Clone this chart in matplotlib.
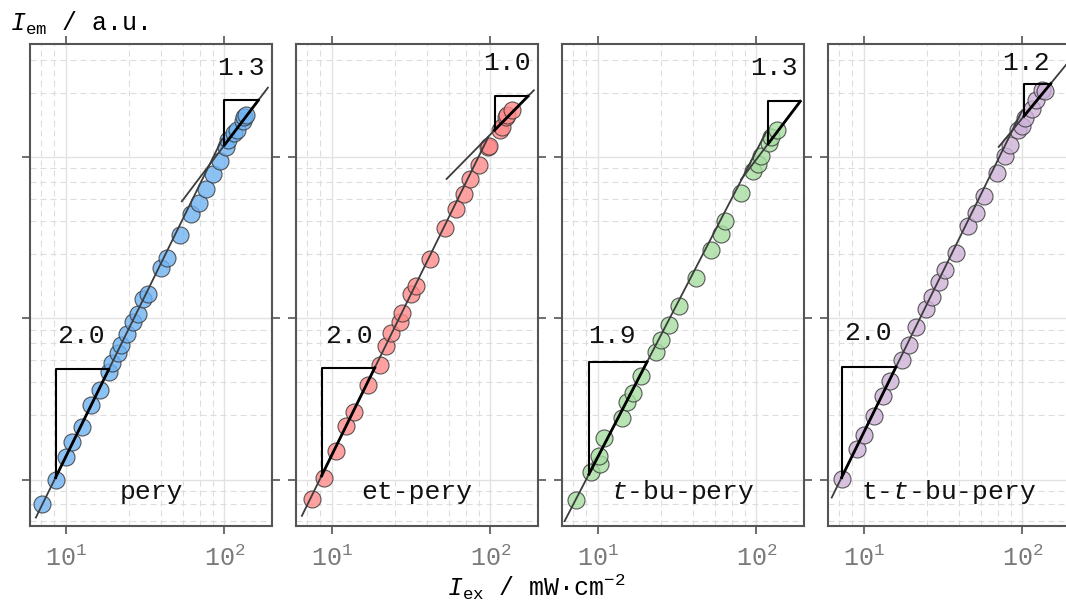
import numpy as np
import matplotlib.pyplot as plt
from matplotlib.ticker import LogLocator, NullFormatter

plt.rcParams['font.family'] = ['Liberation Mono', 'DejaVu Sans Mono']
plt.rcParams['mathtext.fontset'] = 'custom'
plt.rcParams['mathtext.rm'] = 'Liberation Mono'
plt.rcParams['mathtext.it'] = 'Liberation Mono:italic'

# excitation intensity (mW/cm2) and emission intensity (a.u.) per compound
pery_x = [7.13, 8.74, 10.1, 11.0, 12.7, 14.4, 16.4, 18.7, 19.6, 21.3, 22.2, 24.4, 26.5,
          28.5, 30.9, 33.0, 40.0, 43.6, 52.6, 61.7, 69.6, 76.7, 85.3, 94.0, 102.4, 105.0,
          115.6, 120.2, 130.4, 133.6, 136.9]
pery_y = [703, 991, 1370, 1698, 2124, 2910, 3589, 4665, 5253, 6090, 6860, 7995, 9530,
          10640, 13190, 14030, 20540, 23600, 32620, 44460, 52040, 63560, 78040, 93980,
          115400, 126900, 141600, 147800, 166500, 175500, 181500]

et_x = [7.56, 8.95, 10.6, 12.4, 13.8, 16.9, 20.1, 21.9, 23.7, 26.8, 27.8, 31.7, 34.2,
        41.5, 52.1, 60.8, 68.0, 74.9, 85.2, 96.2, 97.6, 114.5, 118.4, 125.5, 127.3, 136.9]
et_y = [755, 1029, 1507, 2135, 2633, 3873, 5156, 6698, 8070, 9443, 10740, 14030, 15730,
        23360, 36400, 47300, 59200, 72650, 89600, 115400, 116500, 146500, 152200, 175500,
        181500, 195000]

tbu_x = [7.31, 9.03, 10.3, 10.2, 11.0, 14.2, 15.4, 16.8, 18.7, 23.2, 25.0, 28.2, 32.5,
         41.9, 52.1, 60.0, 63.8, 79.7, 95.3, 102.4, 106.4, 120.2, 123.0, 135.6]
tbu_y = [744, 1121, 1245, 1390, 1806, 2404, 3008, 3436, 4403, 6150, 7337, 9135, 11820,
         17720, 26300, 33420, 39850, 60000, 81470, 90920, 100900, 122800, 133100, 146500]

ttbu_x = [7.27, 9.03, 10.1, 11.6, 13.3, 14.7, 17.4, 19.4, 21.5, 24.7, 26.9, 29.9, 32.5,
          38.1, 45.7, 50.9, 57.4, 69.0, 77.4, 83.6, 94.4, 100.0, 103.9, 114.5, 121.3,
          133.6, 138.2]
ttbu_y = [1005, 1543, 1894, 2486, 3310, 4101, 5537, 6829, 8795, 11430, 13500, 16740,
          19770, 25460, 37460, 45100, 57270, 79970, 101500, 118200, 146500, 155000,
          173000, 196700, 224900, 259500, 257000]

names = ['pery', 'et-pery', '$t$-bu-pery', 't-$t$-bu-pery']
colors = ['#6fb2f2', '#ff8a8a', '#a6dca0', '#cdb2d8']

# power-law fits: low-intensity (slope, anchor x, anchor y, x range)
low_slope = [2.0, 2.0, 1.9, 2.0]
low_label = ['2.0', '2.0', '1.9', '2.0']
low_x0 = [8.65, 8.65, 8.82, 7.27]
low_y0 = [1029, 1054, 1079, 1029]
low_x1 = [18.7, 18.7, 20.5, 16.0]
low_range = [(6.5, 97), (6.5, 97), (6.2, 115), (6.3, 100)]
low_text = [(12.5, 7800), (12.8, 7800), (12.4, 7800), (10.6, 8070)]

# high-intensity tangents
high_slope = [1.3, 1.0, 1.3, 1.2]
high_label = ['1.3', '1.0', '1.3', '1.2']
high_x0 = [100.0, 106.4, 119.0, 102.4]
high_y0 = [118200, 146500, 121000, 178900]
high_x1 = [163.7, 172.6, 189.0, 150.8]
high_range = [(54, 188), (53, 188), (80, 190), (71, 230)]
high_text = [(127, 354000), (127, 384000), (130, 354000), (105, 384000)]

xs = [pery_x, et_x, tbu_x, ttbu_x]
ys = [pery_y, et_y, tbu_y, ttbu_y]

fig = plt.figure(figsize=(10.66, 6.1), dpi=100)

W, H = 1066, 610
lefts = [30, 296, 562, 828]
for i in range(4):
    ax = fig.add_axes([lefts[i] / W, (H - 526) / H, 242 / W, 482 / H])
    ax.set_xscale('log')
    ax.set_yscale('log')
    ax.set_xlim(5.97, 199.6)
    ax.set_ylim(515, 501000)

    ax.xaxis.set_minor_locator(LogLocator(base=10, subs=[2.5, 4, 5.5, 7, 8.5]))
    ax.yaxis.set_minor_locator(LogLocator(base=10, subs=[2.5, 4, 5.5, 7, 8.5]))
    ax.xaxis.set_minor_formatter(NullFormatter())
    ax.yaxis.set_minor_formatter(NullFormatter())
    ax.grid(True, which='major', color='#e2e2e2', lw=1.0, ls='-', zorder=0)
    ax.grid(True, which='minor', color='#dddddd', lw=0.8, ls=(0, (5.4, 3.6)), zorder=0)
    ax.set_axisbelow(True)

    ax.tick_params(which='major', direction='out', length=6, width=1.2, color='#555555',
                   top=True, right=True, labelsize=18, labelcolor='#7a7a7a', pad=8)
    ax.tick_params(which='minor', length=0)
    ax.tick_params(axis='y', labelleft=False)
    for s in ax.spines.values():
        s.set_color('#555555')
        s.set_linewidth(1.5)

    # fit lines
    lx = np.geomspace(*low_range[i], 50)
    ax.plot(lx, low_y0[i] * (lx / low_x0[i]) ** low_slope[i], color='#3c3c3c', lw=1.3, zorder=3)
    hx = np.geomspace(*high_range[i], 50)
    ax.plot(hx, high_y0[i] * (hx / high_x0[i]) ** high_slope[i], color='#3c3c3c', lw=1.3, zorder=3)

    ax.scatter(xs[i], ys[i], s=150, color=colors[i], alpha=0.8, edgecolors='#333333',
               linewidths=0.8, zorder=2)

    # slope triangles
    for x0, y0, x1, k in [(low_x0[i], low_y0[i], low_x1[i], low_slope[i]),
                          (high_x0[i], high_y0[i], high_x1[i], high_slope[i])]:
        y1 = y0 * (x1 / x0) ** k
        ax.plot([x0, x0, x1], [y0, y1, y1], color='black', lw=1.5, zorder=4)
        ax.plot([x0, x1], [y0, y1], color='black', lw=2.0, zorder=4)

    ax.text(*low_text[i], low_label[i], ha='center', va='center', fontsize=19, color='#111111')
    ax.text(*high_text[i], high_label[i], ha='center', va='center', fontsize=19, color='#111111')
    ax.text(0.5, 0.055, names[i], transform=ax.transAxes, ha='center', va='baseline',
            fontsize=19, color='#111111')

fig.text(0.009, 0.949, r'$I_{\mathrm{em}}$ / a.u.', fontsize=18, ha='left', va='baseline')
fig.text(0.503, 0.024, r'$I_{\mathrm{ex}}$ / mW·cm$^{-2}$', fontsize=18, ha='center',
         va='baseline')

fig.savefig('out.png', dpi=100)
